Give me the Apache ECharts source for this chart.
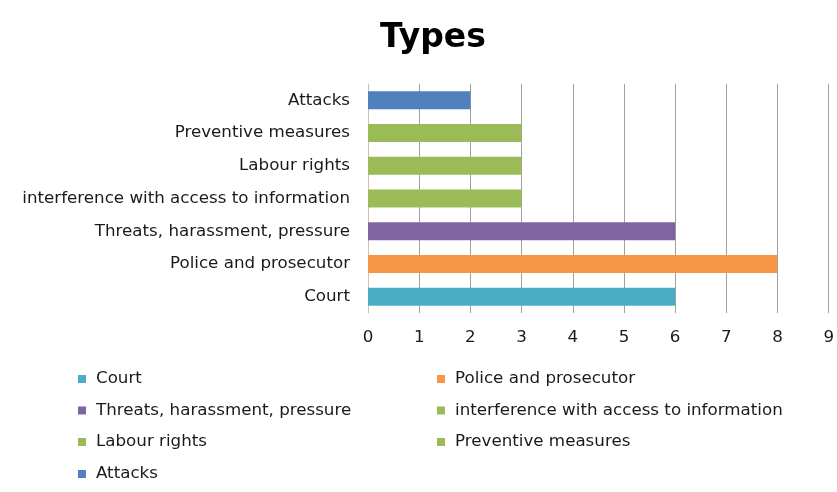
<!DOCTYPE html>
<html><head><meta charset="utf-8">
<script src="https://cdn.jsdelivr.net/npm/echarts@6/dist/echarts.min.js"></script>
<style>html,body{margin:0;padding:0;background:#fff}#c{width:837px;height:492px}</style>
</head><body><div id="c"></div>
<script>
const categories = ["Court", "Police and prosecutor", "Threats, harassment, pressure", "interference with access to information", "Labour rights", "Preventive measures", "Attacks"];
const values = [6, 8, 6, 3, 3, 3, 2];
const colors = ["#4BACC6", "#F79646", "#8064A2", "#9BBB59", "#9BBB59", "#9BBB59", "#4F81BD"];
const xTicks = [0, 1, 2, 3, 4, 5, 6, 7, 8, 9];
const legendLeft = ["Court", "Threats, harassment, pressure", "Labour rights"];
const legendLeftLast = ["Attacks"];
const legendRight = ["Police and prosecutor", "interference with access to information", "Preventive measures"];

const series = categories.map((name, i) => ({
  name: name,
  type: 'bar',
  stack: 'all',
  barWidth: '55%',
  itemStyle: { color: colors[i] },
  data: categories.map((c, j) => j === i ? values[i] : null)
}));

const font = '"DejaVu Sans", sans-serif';
const chart = echarts.init(document.getElementById('c'));
const legendBase = {
  orient: 'vertical', icon: 'rect', itemWidth: 8, itemHeight: 8, itemGap: 11.5, padding: 0,
  textStyle: { fontFamily: font, fontSize: 16.7, color: '#1a1a1a', padding: [0, 0, 0, 5], lineHeight: 20 },
  selectedMode: false
};
chart.setOption({
  animation: false,
  title: { text: 'Types', left: 428, top: 17, textAlign: 'center',
    textStyle: { fontFamily: font, fontSize: 33, fontWeight: 'bold', color: '#000' } },
  grid: { left: 368, right: 2, top: 84, bottom: 179, containLabel: false },
  xAxis: {
    type: 'value', min: 0, max: 9, interval: 1,
    axisLine: { show: false }, axisTick: { show: false },
    splitLine: { show: true, lineStyle: { color: '#a0a0a0', width: 1 } },
    axisLabel: { fontFamily: font, fontSize: 16.7, color: '#1a1a1a', margin: 16,
      formatter: v => xTicks.includes(v) ? String(v) : '' }
  },
  yAxis: {
    type: 'category', data: categories,
    axisLine: { show: true, lineStyle: { color: '#d8bfa5', width: 1 } },
    axisTick: { show: false },
    axisLabel: { fontFamily: font, fontSize: 16.7, color: '#1a1a1a', margin: 18 }
  },
  legend: [
    Object.assign({}, legendBase, { left: 78, top: 369, data: legendLeft }),
    Object.assign({}, legendBase, { left: 78, top: 464, data: legendLeftLast }),
    Object.assign({}, legendBase, { left: 437, top: 369, data: legendRight })
  ],
  series: series
});
</script></body></html>
